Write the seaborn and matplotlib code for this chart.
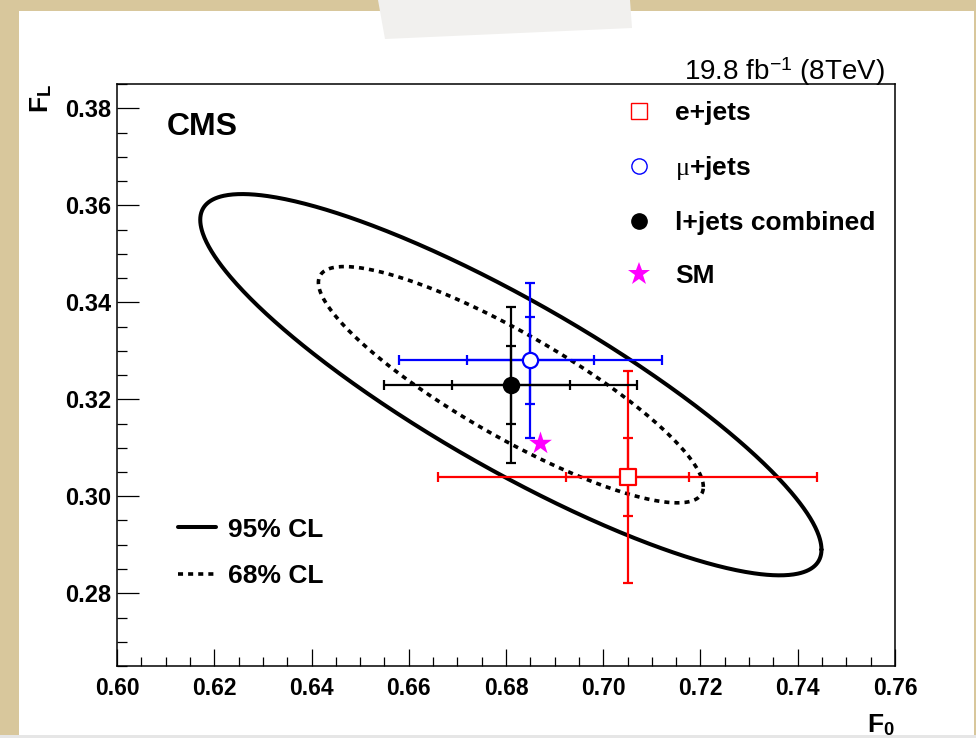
import numpy as np
import pandas as pd
import matplotlib
matplotlib.use("Agg")
import matplotlib.pyplot as plt
import seaborn as sns
from matplotlib.patches import Rectangle, Polygon
from matplotlib.lines import Line2D
from matplotlib.ticker import MultipleLocator, FormatStrFormatter

# ---------------- data ----------------
channels = ["e+jets", r"$\mu$+jets", "l+jets combined"]
f0 = [0.705, 0.685, 0.681]
fl = [0.304, 0.328, 0.323]
f0_stat = [0.0127, 0.0130, 0.0121]
f0_tot = [0.0390, 0.0271, 0.0260]
fl_stat = [0.0080, 0.0090, 0.0080]
fl_tot = [0.0219, 0.0160, 0.0161]
sm_label = ["SM"]
sm_f0 = [0.687]
sm_fl = [0.311]
# combined result: uncertainties and correlation for the CL contours
comb_sigma_f0 = [0.0261]
comb_sigma_fl = [0.01606]
comb_rho = [-0.865]
cl_labels = ["95% CL", "68% CL"]
cl_chi2 = [5.99, 2.30]
x_ticks = [0.60, 0.62, 0.64, 0.66, 0.68, 0.70, 0.72, 0.74, 0.76]
y_ticks = [0.28, 0.30, 0.32, 0.34, 0.36, 0.38]

# ---------------- style ----------------
sns.set_style("ticks")
plt.rcParams["font.family"] = ["Liberation Sans", "DejaVu Sans"]
plt.rcParams["mathtext.fontset"] = "custom"
plt.rcParams["mathtext.rm"] = "Liberation Serif"
plt.rcParams["mathtext.sf"] = "Liberation Sans"
plt.rcParams["mathtext.bf"] = "Liberation Sans:bold"
plt.rcParams["mathtext.default"] = "rm"
plt.rcParams["text.color"] = "black"
plt.rcParams["axes.labelcolor"] = "black"
plt.rcParams["xtick.color"] = "black"
plt.rcParams["ytick.color"] = "black"

W, H = 976, 738
fig = plt.figure(figsize=(W / 100, H / 100), dpi=100, facecolor="#d8c79c")
# page decoration (white sheet + tape)
fig.patches.append(Rectangle((19 / W, 3 / H), 1 - 19 / W - 2 / W, (H - 11 - 3) / H,
                             transform=fig.transFigure, facecolor="white",
                             edgecolor="none", zorder=-3))
fig.patches.append(Polygon([(378 / W, 1 - 0 / H), (630 / W, 1 - 0 / H),
                            (632 / W, 1 - 28 / H), (385 / W, 1 - 39 / H)],
                           closed=True, transform=fig.transFigure,
                           facecolor="#f1f0ee", edgecolor="none", zorder=-2))
fig.patches.append(Rectangle((0, 0), 1, 3 / H, transform=fig.transFigure,
                             facecolor="#e6e6e6", edgecolor="none", zorder=-2))

ax = fig.add_axes([117 / W, 1 - 666 / H, (895 - 117) / W, (666 - 84) / H])
ax.set_facecolor("white")

colors = ["#ff0000", "#0000ff", "#000000"]
markers = ["s", "o", "o"]
faces = ["white", "white", "black"]

# ---------------- CL contours around combined result ----------------
t = np.linspace(0, 2 * np.pi, 721)
cx, cy = f0[2], fl[2]
sx, sy, r = comb_sigma_f0[0], comb_sigma_fl[0], comb_rho[0]
styles = [dict(linestyle="-", linewidth=2.9),
          dict(linestyle=(0, (1.4, 1.4)), linewidth=2.6)]
cl_handles = []
for lab, c2, st in zip(cl_labels, cl_chi2, styles):
    k = np.sqrt(c2)
    ex = cx + k * sx * np.cos(t)
    ey = cy + k * sy * (r * np.cos(t) + np.sqrt(1 - r ** 2) * np.sin(t))
    sns.lineplot(x=ex, y=ey, sort=False, estimator=None, color="black", ax=ax,
                 zorder=2, **st)
    cl_handles.append(Line2D([], [], color="black", **st))

# ---------------- measurements ----------------
for i in range(3):
    # total uncertainty with end caps
    ax.errorbar(f0[i], fl[i], xerr=f0_tot[i], yerr=fl_tot[i], fmt="none",
                ecolor=colors[i], elinewidth=1.6, capsize=3.6, capthick=1.6,
                zorder=3)
    # statistical uncertainty ticks
    ax.errorbar(f0[i], fl[i], xerr=f0_stat[i], yerr=fl_stat[i], fmt="none",
                ecolor=colors[i], elinewidth=1.6, capsize=3.6, capthick=1.6,
                zorder=3)
    sns.scatterplot(x=[f0[i]], y=[fl[i]], marker=markers[i], s=120,
                    facecolor=faces[i], edgecolor=colors[i], linewidth=1.6,
                    ax=ax, zorder=5, legend=False)

sns.scatterplot(x=sm_f0, y=sm_fl, marker="*", s=300, color="#ff00ff",
                edgecolor="#ff00ff", linewidth=0, ax=ax, zorder=6, legend=False)

# ---------------- axes ----------------
ax.set_xlim(0.60, 0.76)
ax.set_ylim(0.265, 0.385)
ax.set_xticks(x_ticks)
ax.set_yticks(y_ticks)
ax.xaxis.set_minor_locator(MultipleLocator(0.005))
ax.yaxis.set_minor_locator(MultipleLocator(0.005))
ax.xaxis.set_major_formatter(FormatStrFormatter("%.2f"))
ax.yaxis.set_major_formatter(FormatStrFormatter("%.2f"))
ax.tick_params(which="both", direction="in", top=False, right=False,
               width=0.9, color="black", labelcolor="black")
ax.tick_params(axis="x", which="major", length=12.5, pad=8, labelsize=16.5)
ax.tick_params(axis="x", which="minor", length=6.5)
ax.tick_params(axis="y", which="major", length=15.5, pad=4, labelsize=17)
ax.tick_params(axis="y", which="minor", length=7.5)
for lab in ax.get_xticklabels() + ax.get_yticklabels():
    lab.set_fontweight("bold")
for sp in ax.spines.values():
    sp.set_visible(True)
    sp.set_linewidth(1.1)
    sp.set_color("black")

ax.set_xlabel(r"$\mathbf{F}_{\mathbf{0}}$", loc="right", fontsize=19, labelpad=9,
              color="black")
ax.set_ylabel(r"$\mathbf{F}_{\mathbf{L}}$", loc="top", fontsize=19, labelpad=8,
              color="black")

ax.text(0.064, 0.952, "CMS", transform=ax.transAxes, fontsize=23,
        fontweight="bold", ha="left", va="top", color="black")
fig.text(885 / W, 1 - 80 / H, r"19.8 fb$^{\mathsf{-1}}$ (8TeV)", fontsize=20,
         ha="right", va="baseline", color="black")

# ---------------- legends ----------------
leg_handles = [
    Line2D([], [], linestyle="none", marker="s", markersize=11,
           markerfacecolor="white", markeredgecolor="#ff0000", markeredgewidth=1.0),
    Line2D([], [], linestyle="none", marker="o", markersize=11,
           markerfacecolor="white", markeredgecolor="#0000ff", markeredgewidth=1.0),
    Line2D([], [], linestyle="none", marker="o", markersize=11,
           markerfacecolor="black", markeredgecolor="black", markeredgewidth=1.0),
    Line2D([], [], linestyle="none", marker="*", markersize=17,
           markerfacecolor="#ff00ff", markeredgecolor="#ff00ff", markeredgewidth=0),
]
leg1 = ax.legend(leg_handles, channels + sm_label, loc="upper left",
                 bbox_to_anchor=(0.624, 1.012), frameon=False,
                 prop=dict(family=["Liberation Sans", "DejaVu Sans"], weight="bold", size=19),
                 handlelength=1.0, handletextpad=0.85, labelspacing=1.1,
                 borderpad=0.4)
for txt in leg1.get_texts():
    txt.set_color("black")
ax.add_artist(leg1)
leg2 = ax.legend(cl_handles, cl_labels, loc="lower left", bbox_to_anchor=(0.048, 0.093),
                 frameon=False, prop=dict(family="Liberation Sans", weight="bold", size=19),
                 handlelength=1.45, handletextpad=0.45, labelspacing=0.85, borderpad=0.4)
for txt in leg2.get_texts():
    txt.set_color("black")

fig.savefig("out.png", dpi=100, facecolor=fig.get_facecolor())
